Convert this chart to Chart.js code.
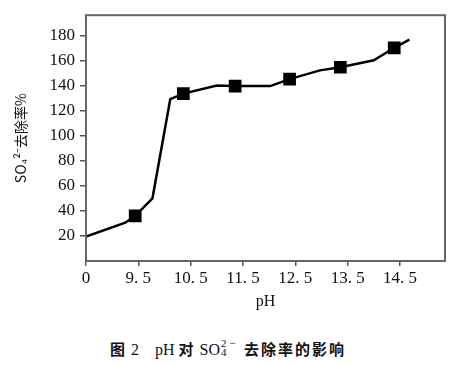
<!DOCTYPE html>
<html>
<head>
<meta charset="utf-8">
<script src="https://cdn.jsdelivr.net/npm/chart.js@4.4.1/dist/chart.umd.min.js"></script>
<style>
    body { margin: 0; background: #fff; }
    #wrap { position: relative; width: 473px; height: 366px; }
    #chart { position: absolute; left: 0; top: 0; }
    #cap {
        position: absolute; left: 110px; top: 338px; height: 22px; line-height: 22px;
        font-family: "Liberation Serif", serif; font-size: 16px; color: #111; white-space: nowrap;
    }
    #cap .cj { font-family: "Noto Sans CJK SC", sans-serif; font-weight: bold; font-size: 15px; letter-spacing: 2px; }
    #cap .ss { display: inline-block; position: relative; width: 20px; height: 16px; }
    #cap .sp { position: absolute; left: 1px; top: -7px; font-size: 11px; }
    #cap .sb { position: absolute; left: 1px; top: 2px; font-size: 11px; }
</style>
</head>
<body>
<div id="wrap">
    <canvas id="chart" width="473" height="320"></canvas>
    <div id="cap"><span class="cj">图</span> 2<span style="margin-left:16px">pH </span><span class="cj">对</span> SO<span class="ss"><span class="sp">2 −</span><span class="sb">4</span></span> <span class="cj">去除率的影响</span></div>
</div>
<script>
// line vertices (pH, removal)
const lineX = [8.5, 9.25, 9.44, 9.77, 10.11, 10.36, 11.0, 11.35, 12.02, 12.39, 12.97, 13.36, 14.0, 14.39, 14.68];
const lineY = [19.5, 30.5, 36, 50, 129, 133.5, 140, 139.5, 139.5, 145, 152, 154.5, 160, 170, 176.5];

// square markers
const markX = [9.44, 10.36, 11.35, 12.39, 13.36, 14.39];
const markY = [36, 133.5, 139.5, 145, 154.5, 170];

const xTicks = [8.5, 9.5, 10.5, 11.5, 12.5, 13.5, 14.5];
const xTickLabels = ["0", "9. 5", "10. 5", "11. 5", "12. 5", "13. 5", "14. 5"];
const yTicks = [20, 40, 60, 80, 100, 120, 140, 160, 180];

const tickFont = { family: "'Liberation Serif', serif", size: 17 };

const frame = {
    id: "frame",
    afterDraw(chart) {
        const a = chart.chartArea;
        const ctx = chart.ctx;
        ctx.save();
        ctx.strokeStyle = "#666";
        ctx.lineWidth = 2;
        ctx.strokeRect(a.left, a.top, a.right - a.left, a.bottom - a.top);
        ctx.restore();
    }
};

new Chart(document.getElementById("chart"), {
    type: "line",
    data: {
        datasets: [
            {
                data: lineX.map((x, i) => ({ x: x, y: lineY[i] })),
                borderColor: "#000",
                borderWidth: 2.5,
                pointRadius: 0,
                tension: 0
            },
            {
                data: markX.map((x, i) => ({ x: x, y: markY[i] })),
                showLine: false,
                pointStyle: "rect",
                pointRadius: 9,
                pointBackgroundColor: "#000",
                pointBorderWidth: 0
            }
        ]
    },
    options: {
        responsive: false,
        animation: false,
        layout: { padding: { top: 10, right: 28, left: 0, bottom: 0 } },
        plugins: { legend: { display: false }, tooltip: { enabled: false } },
        scales: {
            x: {
                type: "linear",
                min: 8.5,
                max: 15.36,
                afterBuildTicks: (s) => { s.ticks = xTicks.map(v => ({ value: v })); },
                afterFit: (s) => { s.height = 59; },
                ticks: {
                    color: "#111",
                    font: tickFont,
                    padding: 2,
                    maxRotation: 0,
                    autoSkip: false,
                    callback: (v, i) => xTickLabels[i]
                },
                grid: { drawOnChartArea: false, drawTicks: true, tickLength: 5, color: "#555", lineWidth: 1.5 },
                border: { display: false },
                title: {
                    display: true,
                    text: "pH",
                    color: "#111",
                    font: { family: "'Liberation Serif', serif", size: 16 },
                    padding: { top: 0, bottom: 9 }
                }
            },
            y: {
                min: 0,
                max: 196,
                afterBuildTicks: (s) => { s.ticks = yTicks.map(v => ({ value: v })); },
                afterFit: (s) => { s.width = 86; },
                ticks: { color: "#111", font: tickFont, padding: 5 },
                grid: { drawOnChartArea: false, drawTicks: true, tickLength: 6, color: "#555", lineWidth: 1.5 },
                border: { display: false },
                title: {
                    display: true,
                    text: "SO₄²⁻去除率%",
                    color: "#111",
                    font: { family: "'Noto Sans CJK SC', sans-serif", size: 14 },
                    padding: { top: 12, bottom: 0 }
                }
            }
        }
    },
    plugins: [frame]
});
</script>
</body>
</html>
